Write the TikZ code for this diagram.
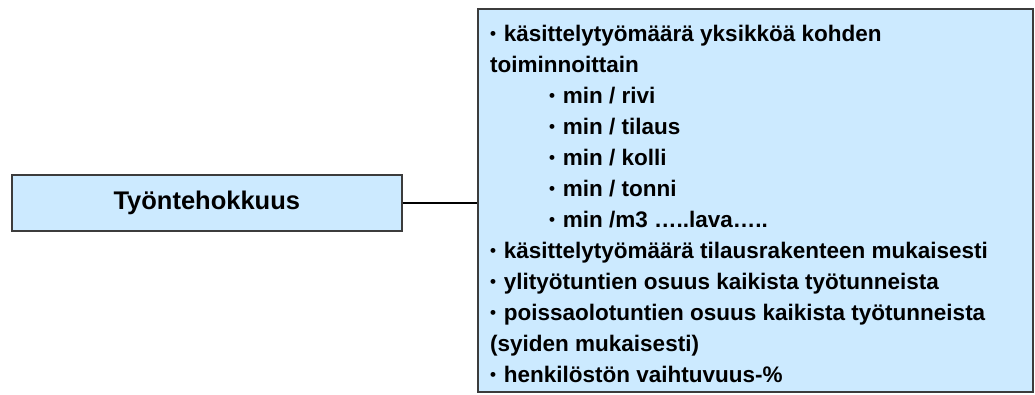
\documentclass[tikz,border=0pt]{standalone}
\usepackage{fontspec}
\setmainfont{Liberation Sans}
\definecolor{boxfill}{RGB}{204,234,255}
\definecolor{boxline}{RGB}{60,60,60}
% small list bullet
\newcommand\lbul{\raisebox{1.6pt}{\fontsize{17}{17}\selectfont•}\hspace{1.5pt}}
\begin{document}
\begin{tikzpicture}[x=1pt,y=-1pt,
  panel/.style={draw=boxline,line width=1.6pt,fill=boxfill,inner sep=0pt},
  title/.style={font=\fontsize{25.5}{30}\selectfont\bfseries},
  item/.style={anchor=base west,inner sep=0pt,font=\fontsize{22.5}{31}\selectfont\bfseries}]
\useasboundingbox (0,0) rectangle (1035,394);
% left heading box
\node[panel,minimum width=390pt,minimum height=56pt,anchor=north west] (head) at (11,174) {};
\node[title] (headtext) at (head.center) {Työntehokkuus};
% right list box
\node[panel,minimum width=555pt,minimum height=383pt,anchor=north west] (list) at (477,8) {};
% connector
\draw[line width=1.4pt,black] (head.east) -- (head.east -| list.west);
% list lines
\node[item] (l1) at (490,41) {\lbul\ käsittelytyömäärä yksikköä kohden};
\node[item] (l2) at (490,72) {toiminnoittain};
\node[item] (l3) at (549,103) {\lbul\ min / rivi};
\node[item] (l4) at (549,134) {\lbul\ min / tilaus};
\node[item] (l5) at (549,165) {\lbul\ min / kolli};
\node[item] (l6) at (549,196) {\lbul\ min / tonni};
\node[item] (l7) at (549,227) {\lbul\ min /m3 …..lava…..};
\node[item] (l8) at (490,258) {\lbul\ käsittelytyömäärä tilausrakenteen mukaisesti};
\node[item] (l9) at (490,289) {\lbul\ ylityötuntien osuus kaikista työtunneista};
\node[item] (l10) at (490,320) {\lbul\ poissaolotuntien osuus kaikista työtunneista};
\node[item] (l11) at (490,351) {(syiden mukaisesti)};
\node[item] (l12) at (490,382) {\lbul\ henkilöstön vaihtuvuus-\%};
\end{tikzpicture}
\end{document}
